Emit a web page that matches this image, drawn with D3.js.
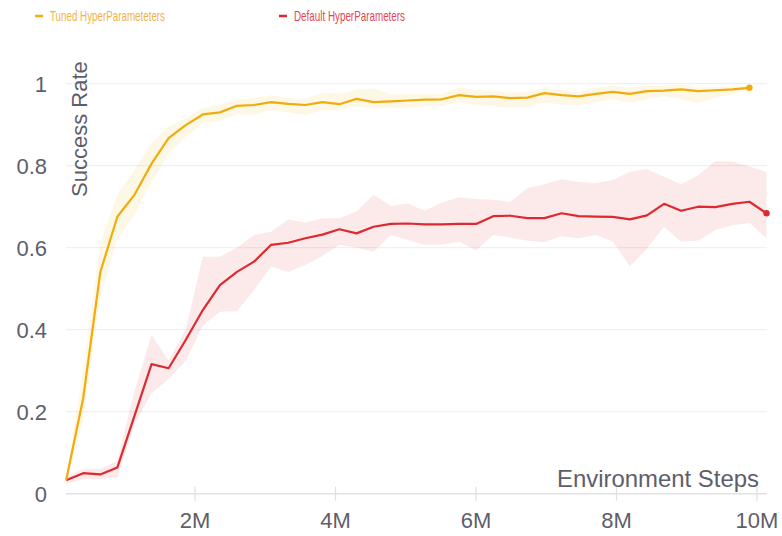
<!DOCTYPE html>
<html>
<head>
<meta charset="utf-8">
<script src="https://cdn.jsdelivr.net/npm/d3@7"></script>
<style>
  html, body { margin: 0; padding: 0; background: #ffffff; }
  svg { display: block; font-family: "Liberation Sans", Arial, Helvetica, sans-serif; }
</style>
</head>
<body>
<svg id="chart" width="782" height="536"></svg>
<script>
// ---- data (environment steps in millions) ----
const steps = [0.172, 0.415, 0.658, 0.902, 1.145, 1.388, 1.631, 1.874, 2.118, 2.361,
  2.604, 2.847, 3.090, 3.334, 3.577, 3.820, 4.063, 4.306, 4.550, 4.793,
  5.036, 5.279, 5.522, 5.766, 6.009, 6.252, 6.495, 6.738, 6.982, 7.225,
  7.468, 7.711, 7.954, 8.198, 8.441, 8.684, 8.927, 9.170, 9.414, 9.657,
  9.900, 10.143];

const tunedMean = [0.033, 0.233, 0.54, 0.676, 0.729, 0.805, 0.867, 0.899, 0.925, 0.930,
  0.946, 0.948, 0.955, 0.951, 0.948, 0.955, 0.950, 0.963, 0.955, 0.957,
  0.959, 0.961, 0.962, 0.972, 0.968, 0.969, 0.965, 0.966, 0.977, 0.972,
  0.969, 0.975, 0.980, 0.975, 0.982, 0.983, 0.986, 0.982, 0.984, 0.986,
  0.990];
const tunedUpper = [0.04, 0.30, 0.61, 0.73, 0.79, 0.855, 0.895, 0.915, 0.94, 0.95,
  0.96, 0.965, 0.972, 0.965, 0.962, 0.978, 0.975, 0.985, 0.988, 0.975,
  0.975, 0.975, 0.975, 0.99, 0.985, 0.982, 0.978, 0.98, 0.99, 0.985,
  0.98, 0.99, 0.995, 0.99, 0.995, 0.995, 0.998, 0.99, 0.992, 0.993,
  0.995];
const tunedLower = [0.025, 0.18, 0.48, 0.62, 0.68, 0.76, 0.83, 0.87, 0.905, 0.91,
  0.925, 0.925, 0.935, 0.93, 0.923, 0.935, 0.935, 0.945, 0.94, 0.94,
  0.942, 0.945, 0.945, 0.955, 0.948, 0.945, 0.942, 0.943, 0.955, 0.95,
  0.947, 0.955, 0.962, 0.953, 0.962, 0.97, 0.962, 0.953, 0.965, 0.975,
  0.985];

const defaultMean = [0.033, 0.050, 0.047, 0.064, 0.19, 0.316, 0.306, 0.375, 0.448, 0.509,
  0.541, 0.566, 0.607, 0.612, 0.623, 0.632, 0.645, 0.635, 0.651, 0.658,
  0.659, 0.657, 0.657, 0.658, 0.658, 0.677, 0.678, 0.672, 0.672, 0.684,
  0.677, 0.676, 0.675, 0.669, 0.679, 0.707, 0.690, 0.700, 0.699, 0.707,
  0.712, 0.684];
const defaultUpper = [0.04, 0.06, 0.06, 0.08, 0.25, 0.387, 0.325, 0.40, 0.578, 0.578,
  0.60, 0.631, 0.639, 0.669, 0.661, 0.672, 0.672, 0.688, 0.729, 0.702,
  0.708, 0.69, 0.71, 0.723, 0.719, 0.717, 0.712, 0.745, 0.755, 0.767,
  0.76, 0.757, 0.765, 0.785, 0.792, 0.773, 0.755, 0.777, 0.811, 0.81,
  0.798, 0.785];
const defaultLower = [0.025, 0.035, 0.035, 0.04, 0.17, 0.245, 0.28, 0.325, 0.41, 0.444,
  0.445, 0.497, 0.554, 0.541, 0.558, 0.58, 0.607, 0.60, 0.59, 0.631,
  0.619, 0.607, 0.607, 0.615, 0.594, 0.631, 0.625, 0.617, 0.613, 0.628,
  0.623, 0.631, 0.615, 0.555, 0.598, 0.651, 0.615, 0.617, 0.643, 0.655,
  0.66, 0.623];

const xTicks = [2, 4, 6, 8, 10];
const xTickLabels = ["2M", "4M", "6M", "8M", "10M"];
const yTicks = [0, 0.2, 0.4, 0.6, 0.8, 1];
const yTickLabels = ["0", "0.2", "0.4", "0.6", "0.8", "1"];
const seriesNames = ["Tuned HyperParameteters", "Default HyperParameters"];

// ---- styles ----
const colTuned = "#f0ac0c";
const colDefault = "#dd2a30";
const textGray = "#5e5e6a";

const svg = d3.select("#chart");
const x = d3.scaleLinear().domain([0.17, 10.15]).range([66, 767]);
const y = d3.scaleLinear().domain([0, 1]).range([493.7, 83.7]);

// gridlines
svg.append("g").selectAll("line").data(yTicks.filter(d => d > 0)).join("line")
  .attr("x1", 66).attr("x2", 767)
  .attr("y1", d => y(d)).attr("y2", d => y(d))
  .attr("stroke", "#ededed").attr("stroke-width", 1);

// x axis
const xAxis = d3.axisBottom(x).tickValues(xTicks)
  .tickFormat((d, i) => xTickLabels[i]).tickSize(0).tickPadding(0);
const gx = svg.append("g").attr("transform", `translate(0,${y(0)})`).call(xAxis);
gx.select(".domain").attr("d", `M66,0H767`).attr("stroke", "#e2e2e2").attr("stroke-width", 1.5);
gx.selectAll(".tick").append("line").attr("y1", -7).attr("y2", 7)
  .attr("stroke", "#e0e0e0").attr("stroke-width", 1.2);
gx.selectAll(".tick text").attr("y", 34).attr("dy", null)
  .attr("fill", textGray).style("font-size", "22px").style("font-family", "'Liberation Sans', Arial, sans-serif");

// y axis labels
const yAxis = d3.axisLeft(y).tickValues(yTicks)
  .tickFormat((d, i) => yTickLabels[i]).tickSize(0).tickPadding(0);
const gy = svg.append("g").attr("transform", `translate(47,0)`).call(yAxis);
gy.select(".domain").remove();
gy.selectAll(".tick text").attr("x", 0).attr("dy", "0.36em")
  .attr("fill", textGray).style("font-size", "22px").style("font-family", "'Liberation Sans', Arial, sans-serif");

// bands
const area = (lo, hi) => d3.area()
  .x((d, i) => x(steps[i])).y0((d, i) => y(lo[i])).y1((d, i) => y(hi[i]));
svg.append("path").datum(defaultMean).attr("d", area(defaultLower, defaultUpper))
  .attr("fill", "#dd2a30").attr("fill-opacity", 0.1);
svg.append("path").datum(tunedMean).attr("d", area(tunedLower, tunedUpper))
  .attr("fill", "#f0ac0c").attr("fill-opacity", 0.1);

// lines
const line = d3.line().x((d, i) => x(steps[i])).y(d => y(d));
svg.append("path").datum(defaultMean).attr("d", line)
  .attr("fill", "none").attr("stroke", colDefault).attr("stroke-width", 2.2).attr("stroke-linejoin", "round");
svg.append("path").datum(tunedMean).attr("d", line)
  .attr("fill", "none").attr("stroke", colTuned).attr("stroke-width", 2.2).attr("stroke-linejoin", "round");

// end dots
svg.append("circle").attr("cx", x(steps[tunedMean.length - 1])).attr("cy", y(tunedMean[tunedMean.length - 1]))
  .attr("r", 3.2).attr("fill", colTuned);
svg.append("circle").attr("cx", x(steps[defaultMean.length - 1])).attr("cy", y(defaultMean[defaultMean.length - 1]))
  .attr("r", 3.2).attr("fill", colDefault);

// axis titles
svg.append("text").attr("transform", "translate(87,197) rotate(-90)")
  .attr("text-anchor", "start").attr("fill", textGray)
  .style("font-size", "22px").text("Success Rate");
svg.append("text").attr("x", 759).attr("y", 487).attr("text-anchor", "end")
  .attr("fill", textGray).style("font-size", "24px")
  .attr("textLength", 202).attr("lengthAdjust", "spacingAndGlyphs")
  .text("Environment Steps");

// legend
const legend = [
  { name: seriesNames[0], color: colTuned, text: "#f0b347", x: 35, w: 115 },
  { name: seriesNames[1], color: colDefault, text: "#e2474f", x: 279, w: 111 }
];
const lg = svg.append("g").selectAll("g").data(legend).join("g");
lg.append("line").attr("x1", d => d.x).attr("x2", d => d.x + 8)
  .attr("y1", 16).attr("y2", 16).attr("stroke", d => d.color).attr("stroke-width", 2.5);
lg.append("text").attr("x", d => d.x + 15).attr("y", 21)
  .attr("fill", d => d.text).style("font-size", "14.5px")
  .attr("textLength", d => d.w).attr("lengthAdjust", "spacingAndGlyphs")
  .text(d => d.name);
</script>
</body>
</html>
